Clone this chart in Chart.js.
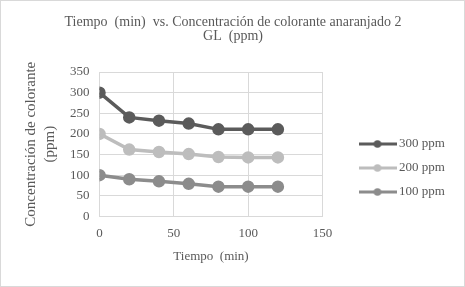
<!DOCTYPE html>
<html>
<head>
<meta charset="utf-8">
<script src="https://cdn.jsdelivr.net/npm/chart.js@4"></script>
<style>
  html, body { margin: 0; padding: 0; background: #fff; }
  #wrap { width: 465px; height: 287px; box-sizing: border-box; border: 1px solid #d9d9d9; position: relative; }
</style>
</head>
<body>
<div id="wrap"><canvas id="chart" width="463" height="285"></canvas></div>
<script>
// Tiempo (min) on the x axis
const tiempo = [0, 20, 40, 60, 80, 100, 120];
const seriesNames = ['300 ppm', '200 ppm', '100 ppm'];
const conc300 = [300, 240, 232, 225, 211, 211, 211];
const conc200 = [200, 162, 156, 151, 144, 143, 143];
const conc100 = [100, 90, 85, 79, 72, 72, 72];
const seriesColors = ['#5b5b5b', '#bdbdbd', '#8c8c8c'];

const FONT = "'Liberation Serif', 'Times New Roman', serif";
const TEXT = '#595959';

// legend swatch: short line with a dot in the middle
function legendSwatch(color) {
  const c = document.createElement('canvas');
  c.width = 38; c.height = 10;
  const g = c.getContext('2d');
  g.strokeStyle = color; g.lineWidth = 3;
  g.beginPath(); g.moveTo(0, 5); g.lineTo(38, 5); g.stroke();
  g.fillStyle = color;
  g.beginPath(); g.arc(19, 5, 3.8, 0, Math.PI * 2); g.fill();
  return c;
}

// move legend right/down and re-center the title, like the excel layout
const layoutNudge = {
  id: 'layoutNudge',
  afterLayout(chart) {
    const lg = chart.legend;
    const dx = 29, dy = 32;
    lg.left += dx; lg.right += dx;
    lg.top += dy; lg.bottom += dy;
    const tb = chart.titleBlock;
    tb.left += 11; tb.right += 11;
  }
};

const allSeries = [conc300, conc200, conc100];
const datasets = allSeries.map((vals, i) => ({
  label: seriesNames[i],
  data: tiempo.map((t, j) => ({ x: t, y: vals[j] })),
  borderColor: seriesColors[i],
  backgroundColor: seriesColors[i],
  borderWidth: 3.5,
  pointRadius: 4.5,
  pointHoverRadius: 4.5,
  pointStyle: 'circle',
  tension: 0
}));

new Chart(document.getElementById('chart'), {
  type: 'line',
  data: { datasets },
  plugins: [layoutNudge],
  options: {
    responsive: false,
    animation: false,
    layout: { padding: { left: 20, right: 41, top: 8, bottom: 23 } },
    plugins: {
      title: {
        display: true,
        text: ['Tiempo  (min)  vs. Concentración de colorante anaranjado 2', 'GL  (ppm)'],
        color: TEXT,
        font: { family: FONT, size: 14, weight: 'normal', lineHeight: 1.0 },
        padding: { top: 6, bottom: 29 }
      },
      legend: {
        position: 'right',
        labels: {
          usePointStyle: true,
          pointStyleWidth: 30,
          color: TEXT,
          font: { family: FONT, size: 13 },
          padding: 11,
          generateLabels: (chart) => chart.data.datasets.map((ds, i) => ({
            text: ds.label,
            pointStyle: legendSwatch(seriesColors[i]),
            fillStyle: seriesColors[i],
            strokeStyle: seriesColors[i],
            lineWidth: 0,
            fontColor: TEXT,
            datasetIndex: i
          }))
        }
      },
      tooltip: { enabled: false }
    },
    scales: {
      x: {
        type: 'linear',
        min: 0, max: 150,
        ticks: { stepSize: 50, color: TEXT, font: { family: FONT, size: 13 }, padding: 9 },
        grid: { color: '#d9d9d9', drawTicks: false },
        border: { color: '#d9d9d9' },
        title: { display: true, text: 'Tiempo  (min)', color: TEXT, font: { family: FONT, size: 13, lineHeight: 1.0 }, padding: { top: 0, bottom: 0 } }
      },
      y: {
        min: 0, max: 350,
        ticks: { stepSize: 50, color: TEXT, font: { family: FONT, size: 13 }, padding: 10 },
        grid: { color: '#d9d9d9', drawTicks: false },
        border: { display: false },
        title: { display: true, text: ['Concentración de colorante', '(ppm)'], color: TEXT, font: { family: FONT, size: 15, lineHeight: 1.3 }, padding: { top: 0, bottom: 0 } }
      }
    }
  }
});
</script>
</body>
</html>
